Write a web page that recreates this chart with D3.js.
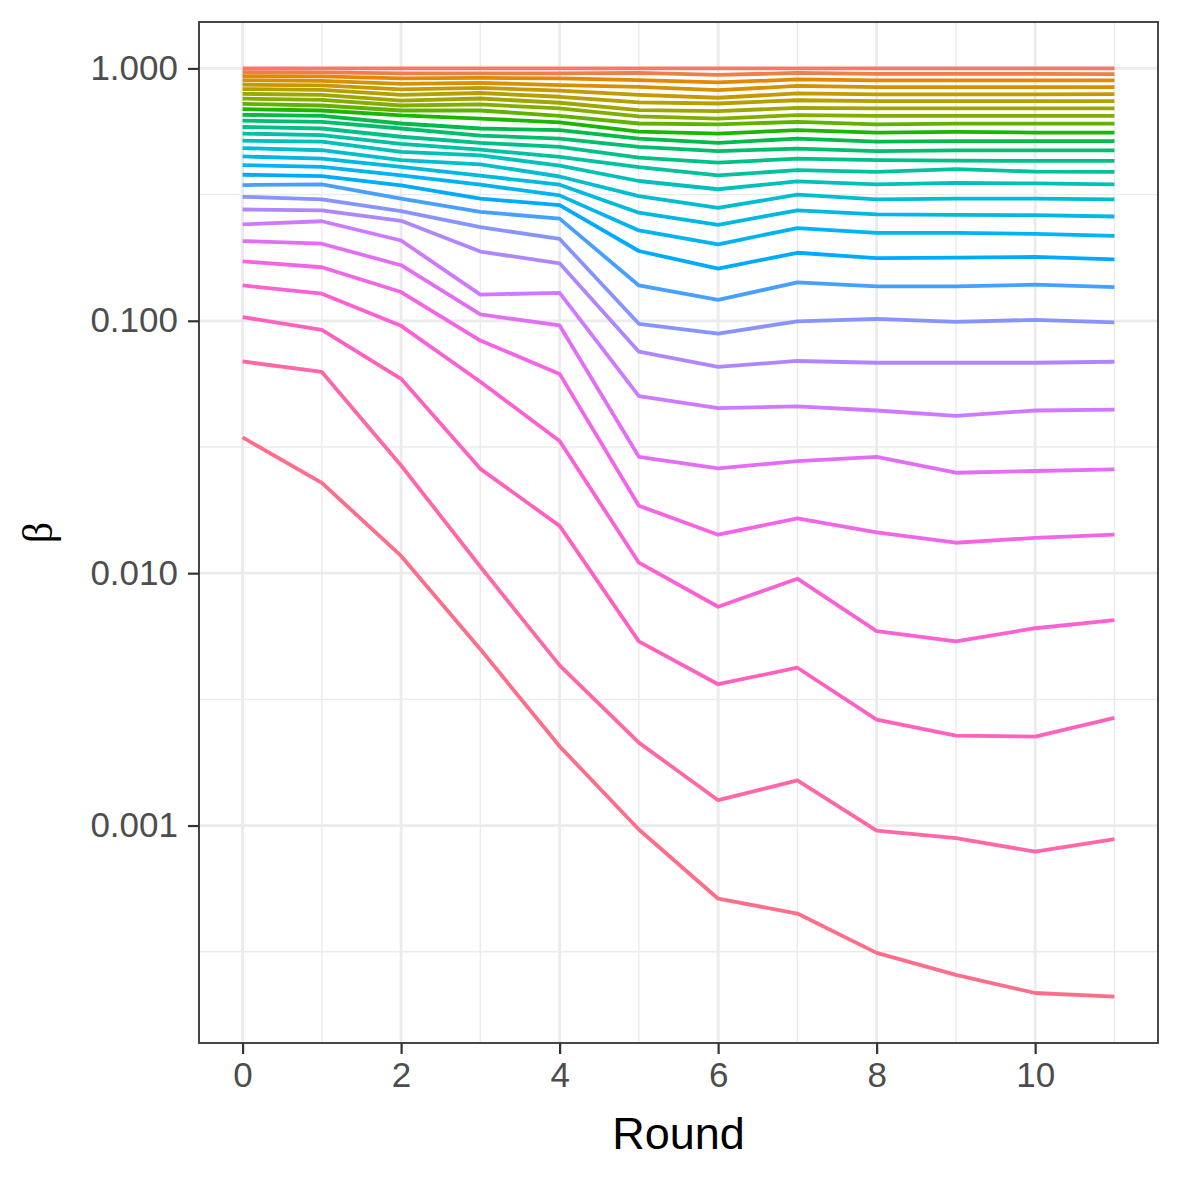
<!DOCTYPE html>
<html>
<head>
<meta charset="utf-8">
<script src="https://cdn.jsdelivr.net/npm/d3@7"></script>
<style>
  body { margin: 0; background: #ffffff; }
  svg { display: block; }
</style>
</head>
<body>
<div id="chart"></div>
<script>
// rounds on the x axis
const rounds = [0, 1, 2, 3, 4, 5, 6, 7, 8, 9, 10, 11];
const xTicks = [0, 2, 4, 6, 8, 10];
const yTicks = [0.001, 0.01, 0.1, 1];
const yTickLabels = ["0.001", "0.010", "0.100", "1.000"];

// beta per round, one row per level, lowest level first
const betaLevels = [
  [0.0345, 0.0228, 0.0117, 0.00499, 0.00206, 0.000964, 0.000513, 0.000448, 0.000313, 0.000256, 0.000217, 0.000210],
  [0.0690, 0.0627, 0.0267, 0.0106, 0.00431, 0.00213, 0.00126, 0.00151, 0.000955, 0.000892, 0.000788, 0.000884],
  [0.1034, 0.0921, 0.0589, 0.0259, 0.0154, 0.00537, 0.00363, 0.00422, 0.00263, 0.00227, 0.00225, 0.00267],
  [0.138, 0.128, 0.0955, 0.0573, 0.0334, 0.0110, 0.00736, 0.00951, 0.00589, 0.00537, 0.00605, 0.00651],
  [0.172, 0.163, 0.130, 0.0835, 0.0616, 0.0185, 0.0142, 0.0165, 0.0145, 0.0132, 0.0138, 0.0142],
  [0.207, 0.202, 0.166, 0.106, 0.0958, 0.0289, 0.0260, 0.0278, 0.0289, 0.0250, 0.0254, 0.0258],
  [0.241, 0.248, 0.208, 0.127, 0.129, 0.0503, 0.0451, 0.0458, 0.0441, 0.0420, 0.0441, 0.0445],
  [0.276, 0.274, 0.249, 0.188, 0.169, 0.0754, 0.0657, 0.0693, 0.0682, 0.0682, 0.0682, 0.0688],
  [0.310, 0.303, 0.272, 0.235, 0.211, 0.0973, 0.0890, 0.0995, 0.1018, 0.0991, 0.1009, 0.0986],
  [0.345, 0.347, 0.305, 0.270, 0.254, 0.138, 0.121, 0.142, 0.137, 0.137, 0.139, 0.136],
  [0.379, 0.374, 0.344, 0.305, 0.287, 0.189, 0.161, 0.186, 0.177, 0.178, 0.179, 0.175],
  [0.414, 0.407, 0.377, 0.346, 0.314, 0.228, 0.201, 0.233, 0.223, 0.223, 0.221, 0.217],
  [0.448, 0.439, 0.407, 0.376, 0.346, 0.268, 0.240, 0.274, 0.264, 0.263, 0.262, 0.259],
  [0.483, 0.474, 0.433, 0.417, 0.373, 0.312, 0.280, 0.316, 0.303, 0.305, 0.305, 0.303],
  [0.517, 0.513, 0.467, 0.452, 0.412, 0.358, 0.332, 0.357, 0.347, 0.352, 0.350, 0.347],
  [0.552, 0.544, 0.502, 0.477, 0.446, 0.406, 0.377, 0.395, 0.389, 0.399, 0.390, 0.389],
  [0.586, 0.578, 0.536, 0.507, 0.489, 0.443, 0.423, 0.439, 0.433, 0.431, 0.430, 0.430],
  [0.621, 0.614, 0.578, 0.542, 0.527, 0.489, 0.470, 0.481, 0.470, 0.473, 0.473, 0.473],
  [0.655, 0.648, 0.605, 0.578, 0.569, 0.527, 0.507, 0.527, 0.513, 0.515, 0.515, 0.515],
  [0.690, 0.681, 0.651, 0.633, 0.611, 0.562, 0.552, 0.569, 0.557, 0.560, 0.557, 0.557],
  [0.724, 0.713, 0.681, 0.681, 0.649, 0.605, 0.600, 0.614, 0.600, 0.604, 0.604, 0.604],
  [0.759, 0.750, 0.713, 0.720, 0.694, 0.645, 0.633, 0.653, 0.649, 0.649, 0.649, 0.649],
  [0.793, 0.785, 0.746, 0.760, 0.731, 0.683, 0.677, 0.698, 0.694, 0.694, 0.694, 0.694],
  [0.828, 0.822, 0.785, 0.799, 0.772, 0.733, 0.726, 0.748, 0.742, 0.742, 0.742, 0.742],
  [0.862, 0.856, 0.826, 0.837, 0.816, 0.785, 0.765, 0.796, 0.789, 0.789, 0.789, 0.791],
  [0.897, 0.892, 0.868, 0.876, 0.858, 0.845, 0.820, 0.852, 0.843, 0.843, 0.843, 0.843],
  [0.931, 0.930, 0.913, 0.917, 0.913, 0.899, 0.880, 0.904, 0.896, 0.896, 0.896, 0.896],
  [0.966, 0.964, 0.955, 0.955, 0.955, 0.960, 0.942, 0.960, 0.951, 0.951, 0.951, 0.949],
  [1.000, 1.000, 1.000, 1.000, 1.000, 1.000, 1.000, 1.000, 1.000, 1.000, 1.000, 1.000]
];

const dims = { width: 1181, height: 1181 };
const margins = { left: 199, right: 23, top: 22, bottom: 138 };
const innerW = dims.width - margins.left - margins.right;
const innerH = dims.height - margins.top - margins.bottom;

// R's hcl() works in polar CIE-LUV, not LAB, so convert by hand
function hclLuv(h, c, l) {
  const Xn = 95.047, Yn = 100.0, Zn = 108.883;
  const denom = Xn + 15 * Yn + 3 * Zn;
  const un = 4 * Xn / denom, vn = 9 * Yn / denom;
  const hr = h * Math.PI / 180;
  const U = c * Math.cos(hr), V = c * Math.sin(hr);
  const Y = l > 8 ? Yn * Math.pow((l + 16) / 116, 3) : Yn * l / 903.3;
  const up = U / (13 * l) + un, vp = V / (13 * l) + vn;
  const X = 9 * Y * up / (4 * vp);
  const Z = -X / 3 - 5 * Y + 3 * Y / vp;
  const x = X / 100, y = Y / 100, z = Z / 100;
  const lin = [
    3.2404542 * x - 1.5371385 * y - 0.4985314 * z,
    -0.9692660 * x + 1.8760108 * y + 0.0415560 * z,
    0.0556434 * x - 0.2040259 * y + 1.0572252 * z
  ];
  const gam = lin.map(v => {
    const s = v <= 0.0031308 ? 12.92 * v : 1.055 * Math.pow(v, 1 / 2.4) - 0.055;
    return Math.round(Math.max(0, Math.min(1, s)) * 255);
  });
  return d3.rgb(gam[0], gam[1], gam[2]).formatHex();
}

const svg = d3.select("#chart").append("svg")
  .attr("width", dims.width)
  .attr("height", dims.height)
  .attr("viewBox", [0, 0, dims.width, dims.height]);

svg.append("rect").attr("width", dims.width).attr("height", dims.height).attr("fill", "#ffffff");

const g = svg.append("g")
  .attr("transform", `translate(${margins.left},${margins.top})`);

// ggplot style 5% expansion
const xExt = d3.extent(rounds);
const xPad = (xExt[1] - xExt[0]) * 0.05;
const xScale = d3.scaleLinear()
  .domain([xExt[0] - xPad, xExt[1] + xPad])
  .range([0, innerW]);

const allVals = betaLevels.flat();
const logMin = Math.log10(d3.min(allVals)), logMax = Math.log10(d3.max(allVals));
const logPad = (logMax - logMin) * 0.05;
const yScale = d3.scaleLog()
  .domain([Math.pow(10, logMin - logPad), Math.pow(10, logMax + logPad)])
  .range([innerH, 0]);

// minor breaks sit halfway between majors (in log space)
const yMinor = [];
for (let e = -5; e <= 1; e++) {
  const v = Math.pow(10, e - 0.5);
  if (v > yScale.domain()[0] && v < yScale.domain()[1]) yMinor.push(v);
}
const xMinor = [1, 3, 5, 7, 9, 11];

const grid = g.append("g");
grid.selectAll("line.ymin").data(yMinor).join("line")
  .attr("x1", 0).attr("x2", innerW)
  .attr("y1", d => yScale(d)).attr("y2", d => yScale(d))
  .attr("stroke", "#ebebeb").attr("stroke-width", 1.4);
grid.selectAll("line.xmin").data(xMinor).join("line")
  .attr("y1", 0).attr("y2", innerH)
  .attr("x1", d => xScale(d)).attr("x2", d => xScale(d))
  .attr("stroke", "#ebebeb").attr("stroke-width", 1.4);
grid.selectAll("line.ymaj").data(yTicks).join("line")
  .attr("x1", 0).attr("x2", innerW)
  .attr("y1", d => yScale(d)).attr("y2", d => yScale(d))
  .attr("stroke", "#ebebeb").attr("stroke-width", 2.8);
grid.selectAll("line.xmaj").data(xTicks).join("line")
  .attr("y1", 0).attr("y2", innerH)
  .attr("x1", d => xScale(d)).attr("x2", d => xScale(d))
  .attr("stroke", "#ebebeb").attr("stroke-width", 2.8);

// lines, hue palette like scale_colour_hue, top level gets the first hue
const n = betaLevels.length;
const colour = j => hclLuv(15 + 360 * (n - 1 - j) / n, 100, 65);

const line = d3.line()
  .x((d, i) => xScale(rounds[i]))
  .y(d => yScale(d));

g.append("g").selectAll("path")
  .data(betaLevels)
  .join("path")
  .attr("d", d => line(d))
  .attr("fill", "none")
  .attr("stroke", (d, j) => colour(j))
  .attr("stroke-width", 3.8)
  .attr("stroke-linejoin", "round");

// panel border
g.append("rect")
  .attr("width", innerW).attr("height", innerH)
  .attr("fill", "none").attr("stroke", "#333333").attr("stroke-width", 1.8);

// axes
const xAxis = g.append("g")
  .attr("transform", `translate(0,${innerH})`)
  .call(d3.axisBottom(xScale).tickValues(xTicks).tickSize(11).tickPadding(8).tickFormat(d3.format("d")));
const yAxis = g.append("g")
  .call(d3.axisLeft(yScale).tickValues(yTicks).tickSize(11).tickPadding(10)
    .tickFormat((d, i) => yTickLabels[i]));

[xAxis, yAxis].forEach(ax => {
  ax.select(".domain").remove();
  ax.selectAll(".tick line").attr("stroke", "#333333").attr("stroke-width", 2.2);
  ax.selectAll(".tick text")
    .attr("fill", "#4d4d4d")
    .attr("font-family", "'Liberation Sans', Arial, sans-serif")
    .attr("font-size", 35);
});

svg.append("text")
  .attr("x", margins.left + innerW / 2)
  .attr("y", 1149)
  .attr("text-anchor", "middle")
  .attr("font-family", "'Liberation Sans', Arial, sans-serif")
  .attr("font-size", 45)
  .attr("fill", "#000000")
  .text("Round");

svg.append("text")
  .attr("transform", `translate(52,${margins.top + innerH / 2}) rotate(-90)`)
  .attr("text-anchor", "middle")
  .attr("font-family", "'Liberation Serif', 'Times New Roman', serif")
  .attr("font-size", 42)
  .attr("fill", "#000000")
  .text("β");
</script>
</body>
</html>
